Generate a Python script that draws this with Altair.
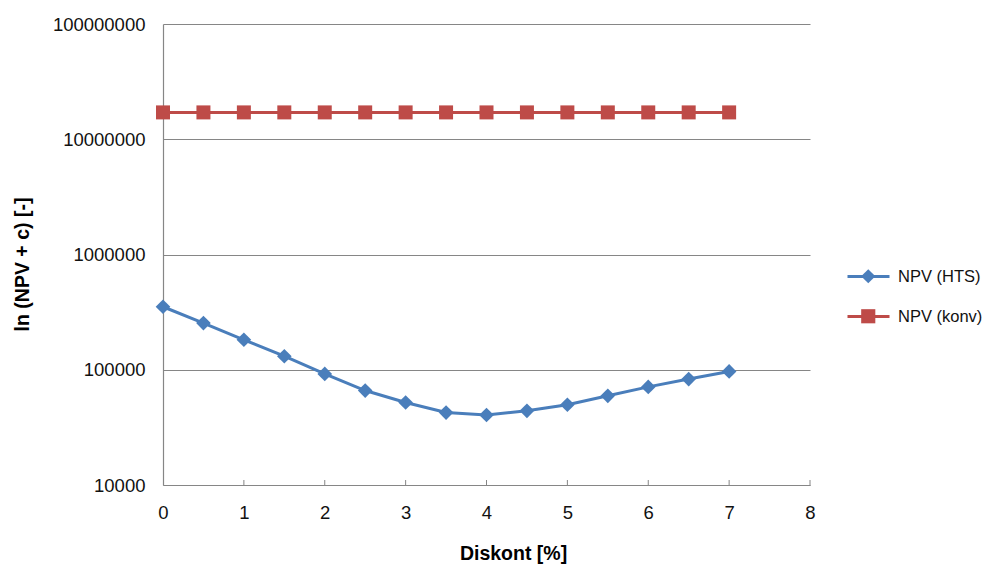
import altair as alt
import pandas as pd

disc = [0, 0.5, 1, 1.5, 2, 2.5, 3, 3.5, 4, 4.5, 5, 5.5, 6, 6.5, 7]
npv_hts = [352000, 254000, 182000, 131000, 92000, 66000, 52000, 42500,
           40500, 44000, 49700, 59400, 71000, 83000, 96700]
npv_konv = [17100000, 17100000, 17100000, 17100000, 17100000, 17100000,
            17100000, 17100000, 17100000, 17100000, 17100000, 17100000,
            17100000, 17100000, 17100000]
series_names = ["NPV (HTS)", "NPV (konv)"]
colors = ["#4a7ebb", "#be4b48"]
shapes = ["diamond", "square"]
marker_sizes = [215, 196]
x_ticks = [0, 1, 2, 3, 4, 5, 6, 7, 8]
y_ticks = [10000, 100000, 1000000, 10000000, 100000000]
inner_ticks = [1, 2, 3, 4, 5, 6, 7, 8]

rows = []
for d, v in zip(disc, npv_hts):
    rows.append({"disc": d, "value": v, "series": series_names[0], "series2": series_names[0]})
for d, v in zip(disc, npv_konv):
    rows.append({"disc": d, "value": v, "series": series_names[1], "series2": series_names[1]})
df = pd.DataFrame(rows)
ticks_df = pd.DataFrame({"disc": inner_ticks})

FONT = "Liberation Sans"
GRAY = "#868686"

xscale = alt.Scale(domain=[0, 8], nice=False, zero=False)
yscale = alt.Scale(type="log", domain=[10000, 100000000], nice=False)

x_axis = alt.Axis(
    values=x_ticks, format="d", grid=False, ticks=False,
    labelPadding=18, labelFlush=False, title="Diskont [%]",
    titleX=350, titleY=74, titleBaseline="alphabetic", titleAlign="center",
)
y_axis = alt.Axis(
    values=y_ticks, format="d", grid=True, ticks=False,
    labelPadding=18, labelFlush=False, title="ln (NPV + c) [-]",
    titleX=-141, titleY=240, titleBaseline="middle", titleAlign="center",
)

lines = alt.Chart(df).mark_line(strokeWidth=3).encode(
    x=alt.X("disc:Q", scale=xscale, axis=x_axis),
    y=alt.Y("value:Q", scale=yscale, axis=y_axis),
    color=alt.Color(
        "series:N",
        scale=alt.Scale(domain=series_names, range=colors),
        legend=alt.Legend(
            title=None, orient="none", legendX=683, legendY=230,
            symbolType="stroke", symbolSize=1764, symbolStrokeWidth=3,
            labelFontSize=16.5, labelFont=FONT, labelColor="#111",
            labelOffset=7, rowPadding=9, padding=0,
        ),
    ),
)

marker_legend = alt.Legend(
    title=None, orient="none", legendX=697, legendY=244,
    symbolSize=200, symbolStrokeWidth=0,
    labelFontSize=16.5, labelFont=FONT, labelExpr="''",
    labelOffset=5, rowPadding=23, padding=0,
    symbolOpacity=1,
)

points = alt.Chart(df).mark_point(filled=True, opacity=1, strokeWidth=0).encode(
    x=alt.X("disc:Q", scale=xscale),
    y=alt.Y("value:Q", scale=yscale),
    fill=alt.Fill(
        "series2:N",
        scale=alt.Scale(domain=series_names, range=colors),
        legend=marker_legend,
    ),
    shape=alt.Shape(
        "series2:N",
        scale=alt.Scale(domain=series_names, range=shapes),
        legend=marker_legend,
    ),
    size=alt.Size(
        "series:N",
        scale=alt.Scale(domain=series_names, range=marker_sizes),
        legend=None,
    ),
)

tick_marks = alt.Chart(ticks_df).mark_rule(color=GRAY, strokeWidth=1).encode(
    x=alt.X("disc:Q", scale=xscale),
    y=alt.value(456),
    y2=alt.value(461),
)

chart = (
    alt.layer(lines, points, tick_marks)
    .resolve_legend(color="independent", fill="independent", shape="independent")
    .properties(
        width=647,
        height=461,
        padding={"left": 155, "top": 16, "right": 172, "bottom": 79},
        autosize=alt.AutoSizeParams(type="none"),
        background="white",
    )
    .configure_view(stroke=None)
    .configure_axis(
        domainColor=GRAY,
        gridColor=GRAY,
        gridWidth=1,
        domainWidth=1.2,
        labelFont=FONT,
        labelFontSize=18.5,
        labelColor="#111",
        titleFont=FONT,
        titleFontSize=19.5,
        titleFontWeight="bold",
        titleColor="#000",
    )
)

chart.save("out.html", embed_options={"renderer": "svg", "actions": False})
